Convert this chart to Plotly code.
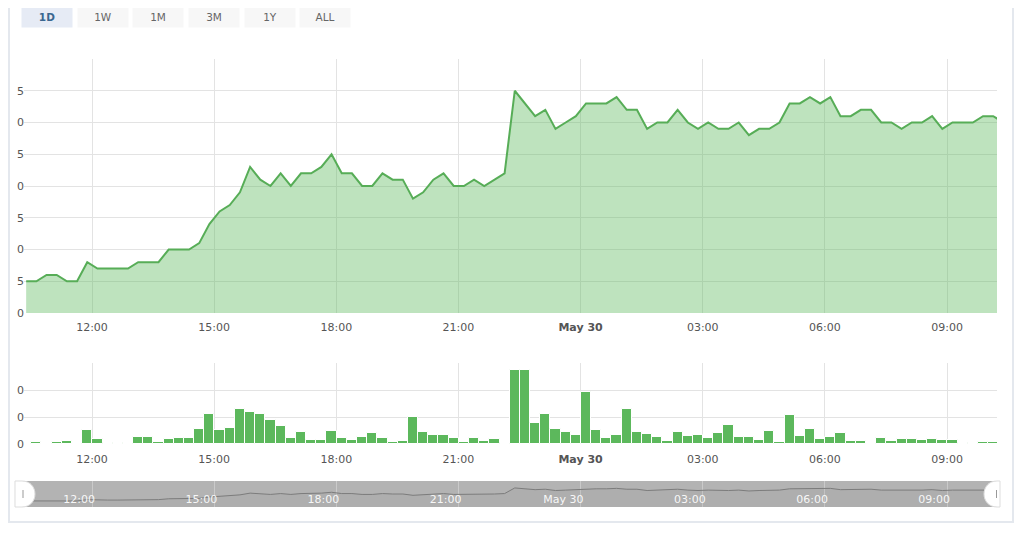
import plotly.graph_objects as go
import pandas as pd

# ---------------- data ----------------
start_time = "2019-05-29 10:23"
interval = "15min"

price = [1.25, 1.25, 1.26, 1.26, 1.25, 1.25, 1.28, 1.27, 1.27, 1.27,
         1.27, 1.28, 1.28, 1.28, 1.30, 1.30, 1.30, 1.31, 1.34, 1.36,
         1.37, 1.39, 1.43, 1.41, 1.40, 1.42, 1.40, 1.42, 1.42, 1.43,
         1.45, 1.42, 1.42, 1.40, 1.40, 1.42, 1.41, 1.41, 1.38, 1.39,
         1.41, 1.42, 1.40, 1.40, 1.41, 1.40, 1.41, 1.42, 1.55, 1.53,
         1.51, 1.52, 1.49, 1.50, 1.51, 1.53, 1.53, 1.53, 1.54, 1.52,
         1.52, 1.49, 1.50, 1.50, 1.52, 1.50, 1.49, 1.50, 1.49, 1.49,
         1.50, 1.48, 1.49, 1.49, 1.50, 1.53, 1.53, 1.54, 1.53, 1.54,
         1.51, 1.51, 1.52, 1.52, 1.50, 1.50, 1.49, 1.50, 1.50, 1.51,
         1.49, 1.50, 1.50, 1.50, 1.51, 1.51, 1.50]

volume = [4, 7, 1, 7, 11, 1, 52, 17, 4, 4,
          4, 25, 25, 7, 17, 21, 21, 57, 111, 52,
          59, 130, 119, 111, 90, 67, 23, 44, 14, 14,
          48, 23, 15, 26, 41, 22, 7, 11, 100, 44,
          33, 33, 22, 7, 22, 10, 17, 4, 273, 273,
          77, 111, 57, 46, 34, 193, 52, 21, 32, 130,
          46, 38, 25, 11, 46, 29, 32, 21, 42, 69,
          25, 25, 14, 49, 7, 109, 29, 56, 17, 25,
          42, 11, 11, 1, 21, 11, 17, 17, 14, 17,
          14, 14, 4, 4, 7, 7, 7]

tick_times = ["2019-05-29 12:00", "2019-05-29 15:00", "2019-05-29 18:00",
              "2019-05-29 21:00", "2019-05-30 00:00", "2019-05-30 03:00",
              "2019-05-30 06:00", "2019-05-30 09:00"]
tick_labels = ["12:00", "15:00", "18:00", "21:00", "May 30", "03:00", "06:00", "09:00"]

# y-axis labels: only their last character is visible in the reference
price_ticks = [1.20, 1.25, 1.30, 1.35, 1.40, 1.45, 1.50, 1.55, 1.60]
price_tick_labels = ["0", "5", "0", "5", "0", "5", "0", "5", ""]
volume_ticks = [0, 100, 200, 300]
volume_tick_labels = ["0", "0", "0", ""]

buttons = ["1D", "1W", "1M", "3M", "1Y", "ALL"]
selected_button = "1D"

view_range = ["2019-05-29 10:19:48", "2019-05-30 10:13:36"]
nav_range = ["2019-05-29 10:16:50", "2019-05-30 10:13:36"]

times = pd.date_range(start_time, periods=len(price), freq=interval)

# ---------------- layout helpers (screen pixel -> paper) ----------------
# the page body has an 8px margin, so the figure starts at screen (8, 8)
OFF = 8
W, H = 1024 - OFF, 533 - OFF
ML, MR, MT, MB = 22 - OFF, 27, 59 - OFF, 26
PW = W - ML - MR
PH = H - MT - MB


def X(sx):
    return (sx - OFF - ML) / PW


def Y(sy):
    return (OFF + H - MB - sy) / PH


GREEN = "#5cb85c"
GRID = "#e3e3e3"
FONT = "DejaVu Sans"

fig = go.Figure()

fig.add_trace(go.Scatter(
    x=times, y=price, mode="lines", xaxis="x", yaxis="y",
    line=dict(color="#57ad57", width=2),
    fill="tozeroy", fillcolor="rgba(92,184,92,0.4)",
    hoverinfo="x+y", showlegend=False))

fig.add_trace(go.Bar(
    x=times, y=volume, xaxis="x2", yaxis="y2",
    marker=dict(color=GREEN, line=dict(color="white", width=1)),
    showlegend=False))

fig.add_trace(go.Scatter(
    x=times, y=price, mode="lines", xaxis="x3", yaxis="y3",
    line=dict(color="#7c7c7c", width=1),
    fill="tozeroy", fillcolor="rgba(110,110,110,0.08)",
    hoverinfo="skip", showlegend=False))

main_ticktext = [("<b>%s</b>" % t) if t.startswith("May") else t for t in tick_labels]
axis_font = dict(family=FONT, size=11, color="#555555")

common_x = dict(
    type="date", range=view_range, tickvals=tick_times, ticktext=main_ticktext,
    showgrid=True, gridcolor=GRID, gridwidth=1, ticks="", zeroline=False,
    tickfont=axis_font, showline=False, domain=[X(24), 1], automargin=False)

fig.update_layout(
    width=W, height=H,
    margin=dict(l=ML, r=MR, t=MT, b=MB, pad=0, autoexpand=False),
    paper_bgcolor="white", plot_bgcolor="rgba(0,0,0,0)",
    bargap=0,
    font=dict(family=FONT, size=11, color="#555555"),
    xaxis=dict(common_x, anchor="y", ticklabelstandoff=6),
    yaxis=dict(domain=[Y(313), 1], range=[1.20, 1.60], tickvals=price_ticks,
               ticktext=price_tick_labels, showgrid=True, gridcolor=GRID,
               zeroline=False, ticks="", tickfont=axis_font, ticklabelstandoff=-1,
               fixedrange=True, automargin=False),
    xaxis2=dict(common_x, anchor="y2", matches="x", ticklabelstandoff=7),
    yaxis2=dict(domain=[Y(444), Y(363)], range=[0, 300], tickvals=volume_ticks,
                ticktext=volume_tick_labels, showgrid=True, gridcolor=GRID,
                zeroline=False, ticks="", tickfont=axis_font, ticklabelstandoff=-1,
                fixedrange=True, automargin=False),
    xaxis3=dict(type="date", range=nav_range, domain=[0, 1], anchor="y3",
                tickvals=tick_times, ticktext=tick_labels, ticks="",
                ticklabelposition="inside left", automargin=False,
                ticklabelstandoff=-4, ticklabelshift=3,
                tickfont=dict(family=FONT, size=11, color="rgba(255,255,255,0.92)"),
                showgrid=True, gridcolor="rgba(255,255,255,0.3)", zeroline=False),
    yaxis3=dict(domain=[0, Y(481)], range=[1.11, 1.71], showticklabels=False,
                showgrid=False, zeroline=False, fixedrange=True, automargin=False),
)

shapes = []
# container border
shapes.append(dict(type="rect", xref="paper", yref="paper",
                   x0=X(9), x1=X(1013), y0=Y(522), y1=Y(-5),
                   line=dict(color="#e4e8ee", width=2), fillcolor="rgba(0,0,0,0)",
                   layer="below"))
# navigator background
shapes.append(dict(type="rect", xref="paper", yref="paper",
                   x0=X(22), x1=X(997), y0=Y(507), y1=Y(481),
                   line=dict(width=0), fillcolor="#b3b3b3", layer="below"))


def pth(points):
    out = []
    for cmd, pts in points:
        s = cmd
        s += " ".join("%.5f,%.5f" % (X(a), Y(b)) for a, b in pts)
        out.append(s)
    return " ".join(out) + " Z"


left_handle = pth([("M", [(15, 481)]), ("L", [(22, 481)]),
                   ("C", [(30, 481), (35, 487), (35, 494)]),
                   ("C", [(35, 501), (30, 507), (22, 507)]),
                   ("L", [(15, 507)])])
right_handle = pth([("M", [(1000, 481)]), ("L", [(997, 481)]),
                    ("C", [(989, 481), (984, 487), (984, 494)]),
                    ("C", [(984, 501), (989, 507), (997, 507)]),
                    ("L", [(1000, 507)])])
for p in (left_handle, right_handle):
    shapes.append(dict(type="path", xref="paper", yref="paper", path=p,
                       fillcolor="white", line=dict(color="#dddddd", width=1),
                       layer="above"))
for hx in (23, 996.5):
    shapes.append(dict(type="line", xref="paper", yref="paper",
                       x0=X(hx), x1=X(hx), y0=Y(490), y1=Y(498),
                       line=dict(color="#999999", width=1), layer="above"))

fig.update_layout(shapes=shapes)

# range selector buttons
btn_centers = [47, 103, 158, 214, 270, 325]
annotations = []
for label, cx in zip(buttons, btn_centers):
    sel = label == selected_button
    annotations.append(dict(
        xref="paper", yref="paper", x=X(cx), y=Y(17),
        text=("<b>%s</b>" % label) if sel else label, showarrow=False,
        width=50, height=20, borderpad=0, align="center", valign="middle",
        bgcolor="#e6ebf5" if sel else "#f7f7f7",
        font=dict(family=FONT, size=10.5, color="#3a6790" if sel else "#666666"),
        xanchor="center", yanchor="middle"))
fig.update_layout(annotations=annotations)

fig.write_html("out.html", config={"displayModeBar": False})
